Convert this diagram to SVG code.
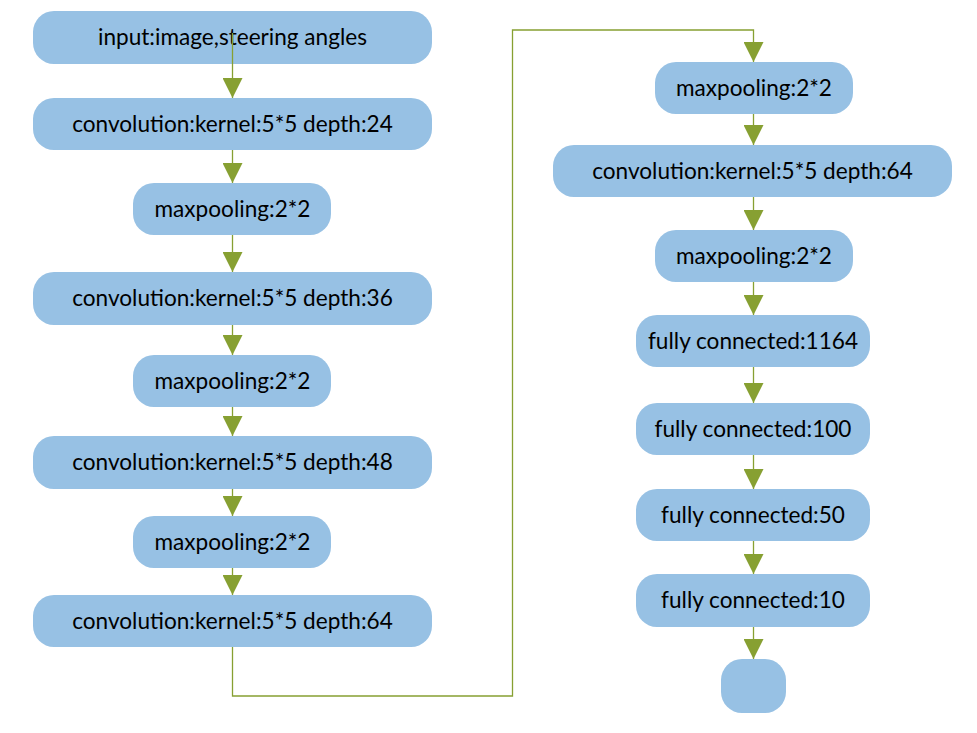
<svg xmlns="http://www.w3.org/2000/svg" width="977" height="733" viewBox="0 0 977 733">
<style>
.n rect{fill:#97C1E4;}
.n text{font-family:Lato,"Liberation Sans",sans-serif;font-size:22.6px;fill:#000;text-anchor:middle;}
.c path{fill:none;stroke:#87A032;stroke-width:1.3;}
</style>
<defs>
<marker id="ah" markerUnits="userSpaceOnUse" markerWidth="20" markerHeight="20" viewBox="0 0 20 20" refX="20" refY="10" orient="auto">
<path d="M0,0 L20,10 L0,20 Z" fill="#87A032"/>
</marker>
</defs>
<rect width="977" height="733" fill="#fff"/>
<g id="n1" class="n"><rect x="33" y="11" width="399" height="53" rx="21"/><text x="232.5" y="45">input:image,steering angles</text></g>
<g id="n2" class="n"><rect x="33" y="98" width="399" height="52" rx="21"/><text x="232.5" y="132">convolution:kernel:5*5 depth:24</text></g>
<g id="n3" class="n"><rect x="133" y="183" width="198" height="52" rx="21"/><text x="232.5" y="217">maxpooling:2*2</text></g>
<g id="n4" class="n"><rect x="33" y="272" width="399" height="53" rx="21"/><text x="232.5" y="306">convolution:kernel:5*5 depth:36</text></g>
<g id="n5" class="n"><rect x="133" y="355" width="198" height="52" rx="21"/><text x="232.5" y="389">maxpooling:2*2</text></g>
<g id="n6" class="n"><rect x="33" y="436" width="399" height="53" rx="21"/><text x="232.5" y="470">convolution:kernel:5*5 depth:48</text></g>
<g id="n7" class="n"><rect x="133" y="516" width="198" height="52" rx="21"/><text x="232.5" y="550">maxpooling:2*2</text></g>
<g id="n8" class="n"><rect x="33" y="595" width="399" height="52" rx="21"/><text x="232.5" y="629">convolution:kernel:5*5 depth:64</text></g>
<g id="n9" class="n"><rect x="655" y="62" width="198" height="52" rx="21"/><text x="754" y="96">maxpooling:2*2</text></g>
<g id="n10" class="n"><rect x="553" y="145" width="399" height="52" rx="21"/><text x="752.5" y="179">convolution:kernel:5*5 depth:64</text></g>
<g id="n11" class="n"><rect x="655" y="230" width="198" height="52" rx="21"/><text x="754" y="264">maxpooling:2*2</text></g>
<g id="n12" class="n"><rect x="636" y="315" width="234" height="52" rx="21"/><text x="753" y="349">fully connected:1164</text></g>
<g id="n13" class="n"><rect x="636" y="403" width="234" height="52" rx="21"/><text x="753" y="437">fully connected:100</text></g>
<g id="n14" class="n"><rect x="636" y="489" width="234" height="52" rx="21"/><text x="753" y="523">fully connected:50</text></g>
<g id="n15" class="n"><rect x="636" y="574" width="234" height="53" rx="21"/><text x="753" y="608">fully connected:10</text></g>
<g id="n16" class="n"><rect x="721" y="659" width="65" height="54" rx="21"/></g>
<g id="connectors" class="c">
<path d="M232.5,33 V98" marker-end="url(#ah)"/>
<path d="M232.5,150 V183" marker-end="url(#ah)"/>
<path d="M232.5,235 V272" marker-end="url(#ah)"/>
<path d="M232.5,325 V355" marker-end="url(#ah)"/>
<path d="M232.5,407 V436" marker-end="url(#ah)"/>
<path d="M232.5,489 V516" marker-end="url(#ah)"/>
<path d="M232.5,568 V595" marker-end="url(#ah)"/>
<path d="M232.5,647 V696 H512.5 V30 H753.5 V62" marker-end="url(#ah)"/>
<path d="M753.5,114 V145" marker-end="url(#ah)"/>
<path d="M753.5,197 V230" marker-end="url(#ah)"/>
<path d="M753.5,282 V315" marker-end="url(#ah)"/>
<path d="M753.5,367 V403" marker-end="url(#ah)"/>
<path d="M753.5,455 V489" marker-end="url(#ah)"/>
<path d="M753.5,541 V574" marker-end="url(#ah)"/>
<path d="M753.5,627 V659" marker-end="url(#ah)"/>
</g>
</svg>
